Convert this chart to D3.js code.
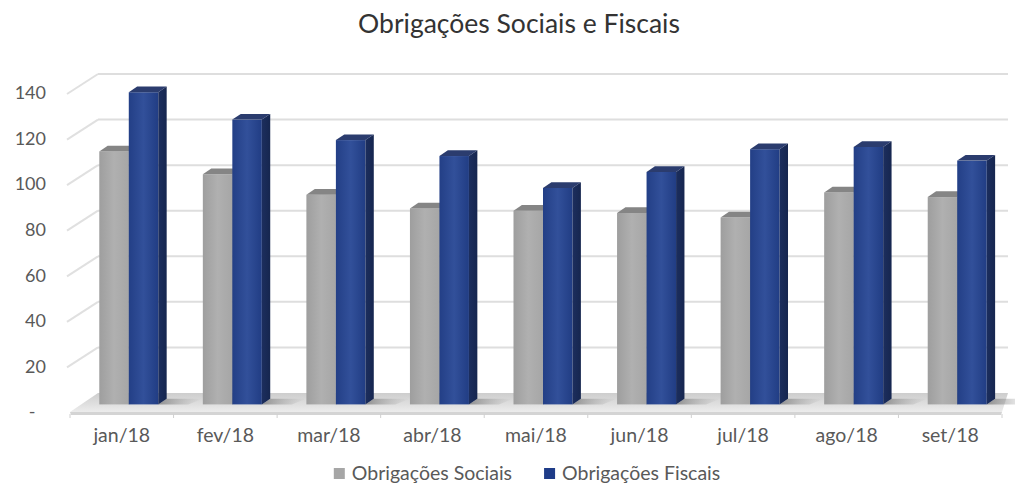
<!DOCTYPE html>
<html>
<head>
<meta charset="utf-8">
<script src="https://cdn.jsdelivr.net/npm/d3@7"></script>
<style>
  body { margin: 0; background: #fff; }
  text { font-family: Lato, "Open Sans", sans-serif; }
  .tick text { fill: #595959; font-size: 18px; }
  .x-axis .tick text { font-size: 19.5px; }
</style>
</head>
<body>
<div id="chart"></div>
<script>
const months = ['jan/18', 'fev/18', 'mar/18', 'abr/18', 'mai/18', 'jun/18', 'jul/18', 'ago/18', 'set/18'];
const seriesNames = ['Obrigações Sociais', 'Obrigações Fiscais'];
const sociais = [111, 101, 92, 86, 85, 84, 82, 93, 91];
const fiscais = [137, 125, 116, 109, 95, 102, 112, 113, 107];
const yTicks = [0, 20, 40, 60, 80, 100, 120, 140];

const w = 1015;
const h = 484;

// fake 3d: depth offset of the back wall, and where the bars sit in depth
const DX = 28, DY = 19;
const f = 0.4, barDepth = 0.3;

const xBand = d3.scaleBand()
                .domain(months)
                .range([70, 1002]);

const yScale = d3.scaleLinear()
                 .domain([0, 140])
                 .range([412, 93]);

const svg = d3.select('#chart')
              .append('svg')
              .attr('width', w)
              .attr('height', h);

const defs = svg.append('defs');

function grad(id, stops, vertical) {
  const g = defs.append('linearGradient').attr('id', id)
    .attr('x1', 0).attr('y1', 0)
    .attr('x2', vertical ? 0 : 1).attr('y2', vertical ? 1 : 0);
  stops.forEach((c, i) => g.append('stop')
    .attr('offset', i / (stops.length - 1)).attr('stop-color', c));
}
grad('grayFront', ['#9e9e9e', '#b0b0b0', '#a6a6a6']);
grad('blueFront', ['#233f86', '#32509a', '#213d84']);
grad('blueSide', ['#1c2e5e', '#16264f']);
grad('floor', ['#cdcdcd', '#ececec'], true);
const sh = defs.append('linearGradient').attr('id', 'shadow');
sh.append('stop').attr('offset', 0).attr('stop-color', '#6f6f6f').attr('stop-opacity', 0.7);
sh.append('stop').attr('offset', 1).attr('stop-color', '#9a9a9a').attr('stop-opacity', 0);

const x0 = xBand.range()[0], x1 = xBand.range()[1];
const wallRight = 1008;

// back wall gridlines
svg.selectAll('.grid')
   .data(yTicks.slice(1))
   .enter()
   .append('line')
   .attr('x1', x0 + DX)
   .attr('x2', wallRight)
   .attr('y1', d => yScale(d) - DY)
   .attr('y2', d => yScale(d) - DY)
   .attr('stroke', '#dedede')
   .attr('stroke-width', 2);

// side wall gridlines
svg.selectAll('.side')
   .data(yTicks.slice(1))
   .enter()
   .append('line')
   .attr('x1', x0 - 3)
   .attr('y1', d => yScale(d) + 1)
   .attr('x2', x0 + DX)
   .attr('y2', d => yScale(d) - DY)
   .attr('stroke', '#e0e0e0')
   .attr('stroke-width', 2);

// floor
const fy = yScale(0);
svg.append('polygon')
   .attr('points', [[x0, fy], [x0 + DX, fy - DY], [wallRight, fy - DY], [x1, fy]].join(' '))
   .attr('fill', 'url(#floor)');
svg.append('polygon')
   .attr('points', [[x0, fy], [x1, fy], [x1 - 1, fy + 3], [x0 + 1, fy + 3]].join(' '))
   .attr('fill', '#d4d4d4');

// ticks along the floor front
svg.selectAll('.ftick')
   .data(months.concat(['end']))
   .enter()
   .append('line')
   .attr('x1', (d, i) => x0 + i * xBand.bandwidth())
   .attr('x2', (d, i) => x0 + i * xBand.bandwidth())
   .attr('y1', fy + 2)
   .attr('y2', fy + 6)
   .attr('stroke', '#d0d0d0');

const barW = 29.5;
const xSeries = d3.scaleBand().domain(seriesNames).range([0, 2 * barW]);
const dd = barDepth * DX, ddy = barDepth * DY;
const pad = (xBand.bandwidth() - (2 * barW + dd)) / 2;

const bars = [];
months.forEach((m, i) => {
  bars.push({ m: m, s: seriesNames[0], v: sociais[i] });
  bars.push({ m: m, s: seriesNames[1], v: fiscais[i] });
});

function barX(d) { return xBand(d.m) + f * DX + pad + xSeries(d.s); }
const base = yScale(0) - f * DY;

// floor shadows right of each pair
svg.selectAll('.shadow')
   .data(months)
   .enter()
   .append('polygon')
   .attr('points', m => {
     const sx = xBand(m) + f * DX + pad + 2 * barW;
     return [[sx, base], [sx + dd, base - ddy], [sx + dd + 36, base - ddy], [sx + 30, base]].join(' ');
   })
   .attr('fill', 'url(#shadow)');

const g = svg.selectAll('.bar')
             .data(bars)
             .enter()
             .append('g')
             .attr('class', 'bar');

g.append('rect')
 .attr('x', barX)
 .attr('y', d => yScale(d.v) - f * DY)
 .attr('width', xSeries.bandwidth())
 .attr('height', d => base - (yScale(d.v) - f * DY))
 .attr('fill', d => d.s === seriesNames[0] ? 'url(#grayFront)' : 'url(#blueFront)');

g.append('polygon')
 .attr('points', d => {
   const x = barX(d), t = yScale(d.v) - f * DY, bw = xSeries.bandwidth();
   return [[x, t], [x + dd, t - ddy], [x + bw + dd, t - ddy], [x + bw, t]].join(' ');
 })
 .attr('fill', d => d.s === seriesNames[0] ? '#858585' : '#2b3c6e');

g.append('polygon')
 .attr('points', d => {
   const x = barX(d) + xSeries.bandwidth(), t = yScale(d.v) - f * DY;
   return [[x, t], [x + dd, t - ddy], [x + dd, base - ddy], [x, base]].join(' ');
 })
 .attr('fill', d => d.s === seriesNames[0] ? '#7a7a7a' : 'url(#blueSide)');

// axes
const yAxis = d3.axisLeft(yScale)
                .tickValues(yTicks)
                .tickSize(0)
                .tickPadding(0)
                .tickFormat(d => d === 0 ? '-\u2007' : d);

svg.append('g')
   .attr('transform', 'translate(46, 0)')
   .call(yAxis)
   .call(a => a.select('.domain').remove());

const xAxis = d3.axisBottom(xBand).tickSize(0).tickPadding(0);

svg.append('g')
   .attr('class', 'x-axis')
   .attr('transform', 'translate(0, 428)')
   .call(xAxis)
   .call(a => a.select('.domain').remove());

// title
svg.append('text')
   .attr('x', 519)
   .attr('y', 33)
   .attr('text-anchor', 'middle')
   .attr('fill', '#333')
   .style('font-size', '26.5px')
   .text('Obrigações Sociais e Fiscais');

// legend
const legendColors = ['#a6a6a6', '#1f3c88'];
const legend = svg.append('g');
let lx = 0;
seriesNames.forEach((s, i) => {
  const item = legend.append('g').attr('transform', `translate(${lx}, 0)`);
  item.append('rect').attr('x', 0).attr('y', -12).attr('width', 11).attr('height', 11).attr('fill', legendColors[i]);
  const t = item.append('text').attr('x', 18).attr('y', 0)
    .attr('fill', '#595959').style('font-size', '19.5px').text(s);
  lx += 18 + t.node().getComputedTextLength() + 32;
});
const lw = lx - 32;
legend.attr('transform', `translate(${527 - lw / 2}, 480)`);
</script>
</body>
</html>
